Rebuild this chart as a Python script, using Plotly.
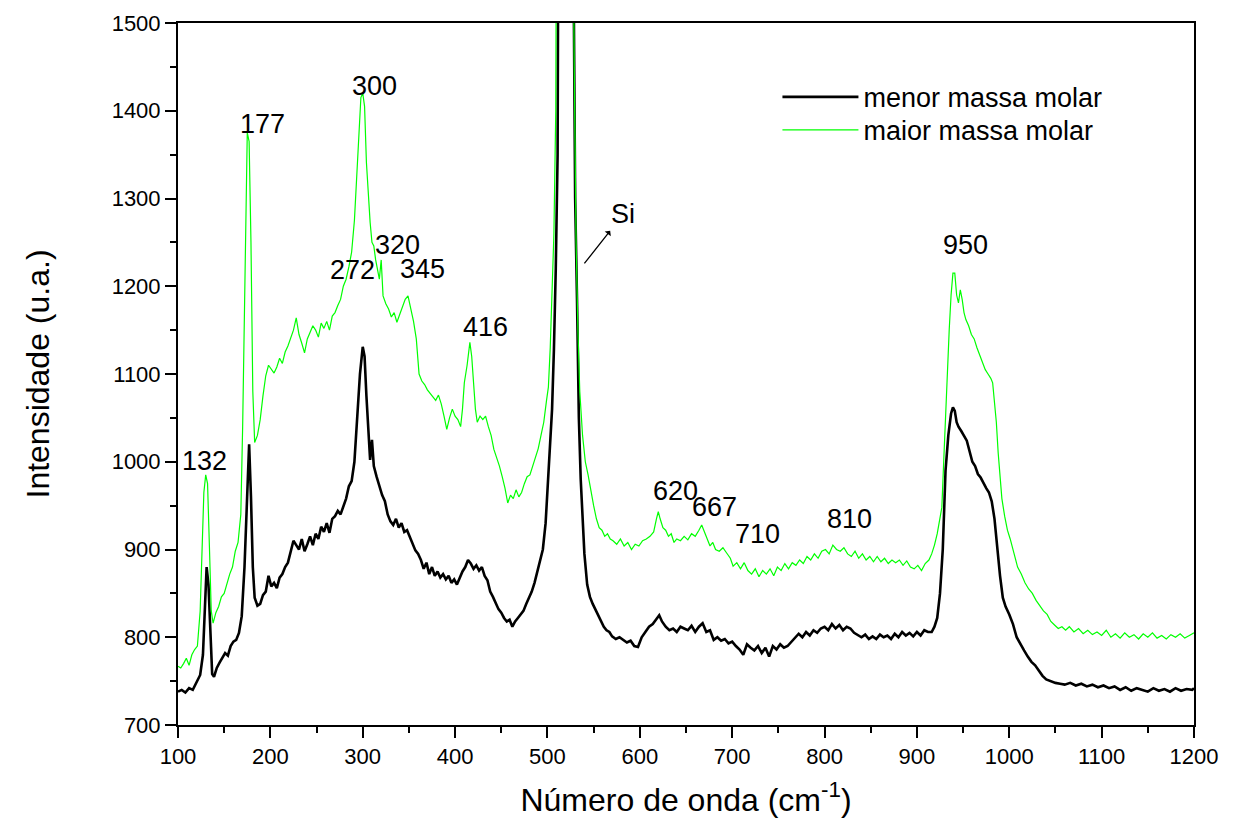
import plotly.graph_objects as go

# ---------------- data ----------------
x_menor = [100,104,108,112,116,120,124,127,129,131,133,135,137,139,142,145,148,151,154,157,160,163,166,169,172,175,177,179,181,183,186,189,192,195,198,201,204,207,210,213,216,219,222,225,228,231,234,237,240,243,246,249,252,255,258,261,264,267,270,273,276,279,282,285,288,291,294,297,300,302,304,306,308,310,312,315,318,321,324,327,330,333,336,339,342,345,348,351,354,357,360,363,366,369,372,375,378,381,384,387,390,393,396,399,402,405,408,411,414,417,420,423,426,429,432,435,438,441,444,447,450,453,456,459,462,465,468,471,474,477,480,483,486,489,492,495,498,501,503,505,507,509,511,514,517,520,523,526,528,530,532,534,536,538,540,543,546,549,552,555,558,561,564,567,570,574,578,582,586,590,594,598,602,606,610,614,618,621,624,628,632,636,640,644,648,652,656,660,664,668,672,676,680,684,688,692,696,700,704,708,712,716,720,724,728,732,736,740,744,748,752,756,760,764,768,772,776,780,784,788,792,796,800,804,808,812,816,820,824,828,832,836,840,844,848,852,856,860,864,868,872,876,880,884,888,892,896,900,904,908,912,916,919,922,925,928,931,934,937,939,941,943,945,948,951,954,957,960,963,966,969,972,975,978,981,984,987,990,993,996,1000,1004,1008,1012,1016,1020,1024,1028,1032,1036,1040,1045,1050,1055,1060,1066,1072,1078,1084,1090,1096,1102,1108,1114,1120,1126,1132,1138,1144,1150,1156,1162,1168,1174,1180,1186,1192,1198,1200]
y_menor = [738,740,737,742,740,748,757,780,840,880,860,800,758,755,765,771,776,782,779,790,795,797,805,824,880,980,1020,960,880,845,836,838,848,852,870,858,862,856,868,872,880,885,898,910,905,900,912,898,906,915,905,918,912,926,920,930,919,935,938,944,940,950,958,972,978,1000,1052,1100,1131,1120,1075,1040,1002,1025,995,983,972,962,955,940,932,928,935,925,930,920,922,915,906,899,895,888,878,885,872,880,870,875,868,872,866,870,862,866,860,868,875,880,888,884,878,882,876,880,870,865,852,846,838,832,828,822,818,820,812,818,822,826,830,838,845,852,862,875,888,900,930,980,1014,1060,1128,1220,1350,1900,3500,4600,3200,1900,1550,1300,1185,1050,980,930,895,860,846,838,831,826,818,812,808,806,801,798,800,797,794,796,790,789,800,806,812,815,820,825,818,812,808,810,806,812,810,808,813,806,812,816,806,808,797,800,796,798,793,795,790,786,780,792,788,785,790,782,788,778,790,786,792,788,790,795,800,804,800,806,802,808,805,810,812,808,815,810,814,808,812,810,805,802,800,803,798,801,798,803,800,802,798,804,800,806,802,805,801,806,802,808,806,806,812,822,850,900,990,1030,1055,1062,1058,1045,1040,1035,1030,1024,1012,1000,995,986,982,975,970,965,955,935,900,870,845,835,826,815,800,792,785,778,772,768,762,756,752,750,748,747,746,748,745,747,744,746,743,745,742,744,740,743,739,742,740,738,742,739,741,738,742,739,741,740,742]

x_maior = [100,103,106,109,112,115,118,121,124,126,128,130,132,134,136,138,141,144,147,150,153,156,159,162,165,168,170,172,174,175,177,179,181,183,186,189,192,195,198,201,204,207,210,213,216,219,222,225,228,231,234,237,240,243,246,249,252,255,258,261,264,267,270,273,276,279,282,285,288,291,294,296,298,300,302,304,306,308,310,312,314,316,318,320,322,325,328,331,334,337,340,343,346,349,352,355,358,361,364,367,370,373,376,379,382,385,388,391,394,397,400,403,406,408,410,413,416,418,420,422,424,427,430,433,436,439,442,445,448,451,454,457,460,463,466,469,472,475,478,481,484,487,490,493,496,499,501,503,505,507,509,512,515,518,521,524,527,529,531,533,535,538,541,544,547,550,553,556,559,562,565,568,571,575,579,583,587,591,595,599,603,607,611,615,618,620,622,625,628,631,634,637,640,644,648,652,656,660,664,667,670,673,676,679,682,686,690,694,698,701,705,709,713,717,721,725,729,733,737,741,745,749,753,757,761,765,769,773,777,781,785,789,793,797,801,805,809,813,817,821,825,829,833,837,841,845,849,853,857,861,865,869,873,877,881,885,889,893,897,901,905,909,913,916,919,922,925,927,929,932,935,937,939,941,943,945,947,949,951,953,956,959,962,965,968,971,974,977,980,982,984,986,988,990,992,995,998,1001,1005,1009,1013,1017,1021,1025,1029,1033,1037,1041,1045,1049,1053,1057,1061,1065,1070,1075,1080,1085,1090,1095,1100,1105,1110,1115,1120,1125,1130,1135,1140,1145,1150,1155,1160,1165,1170,1175,1180,1185,1190,1195,1200]
y_maior = [767,765,770,776,768,780,786,790,830,905,965,985,975,904,830,816,828,835,846,850,862,872,880,898,908,940,1040,1180,1330,1375,1365,1250,1080,1022,1030,1048,1075,1098,1110,1105,1101,1108,1118,1112,1125,1132,1140,1150,1164,1145,1135,1124,1140,1148,1155,1150,1142,1158,1152,1160,1150,1166,1170,1178,1185,1200,1208,1222,1239,1275,1330,1380,1415,1420,1405,1341,1300,1273,1250,1246,1230,1220,1208,1230,1189,1180,1174,1165,1170,1159,1168,1177,1185,1189,1175,1160,1140,1100,1092,1088,1082,1078,1074,1070,1076,1066,1052,1037,1050,1060,1052,1048,1040,1060,1090,1110,1136,1120,1090,1060,1045,1052,1048,1052,1040,1030,1014,1005,995,983,970,953,962,958,968,960,965,975,983,985,995,1006,1015,1030,1045,1070,1085,1130,1200,1260,1400,1900,3000,4300,3800,2500,1700,1450,1250,1150,1080,1030,1000,985,965,950,935,925,922,915,918,912,910,906,912,904,908,900,906,904,910,912,915,920,935,943,935,925,922,915,918,908,912,910,915,911,918,915,922,928,920,912,904,908,900,898,902,896,890,881,885,878,885,876,872,878,869,876,872,878,870,880,876,884,878,885,882,888,884,892,888,895,890,898,900,895,905,900,898,902,895,892,898,890,895,888,892,886,892,886,890,884,888,885,888,882,887,880,878,882,876,884,888,895,905,918,935,948,1000,1080,1151,1190,1215,1215,1190,1181,1196,1185,1170,1162,1155,1145,1140,1130,1122,1115,1105,1100,1095,1090,1070,1045,1010,985,958,938,922,912,895,880,872,862,855,850,842,836,830,826,818,814,810,812,808,812,806,810,804,808,803,806,802,808,800,804,799,805,800,803,798,804,800,805,799,802,798,803,800,804,799,802,805]

series_names = ["menor massa molar", "maior massa molar"]

peak_labels = ["132", "177", "300", "272", "320", "345", "416", "620", "667", "710", "810", "950"]
peak_label_x = [129, 191, 313, 289, 338, 365, 433, 639, 681, 727, 827, 953]
peak_label_y = [1001, 1385, 1428, 1219, 1247, 1220, 1154, 967, 948, 918, 935, 1247]

si_text = "Si"
si_text_xy = (582, 1282)
si_arrow_tail = (540, 1226)

# ---------------- figure ----------------
FONT = "Liberation Sans, Arial, sans-serif"

fig = go.Figure()
fig.add_trace(go.Scatter(x=x_menor, y=y_menor, mode="lines", name=series_names[0],
                         line=dict(color="black", width=2.6), legend="legend"))
fig.add_trace(go.Scatter(x=x_maior, y=y_maior, mode="lines", name=series_names[1],
                         line=dict(color="#00ff00", width=1.2), legend="legend2"))

for t, xx, yy in zip(peak_labels, peak_label_x, peak_label_y):
    fig.add_annotation(x=xx, y=yy, text=t, showarrow=False,
                       font=dict(family=FONT, size=27, color="black"),
                       xanchor="center", yanchor="middle")

# "Si" label with an arrow whose head points at the label
fig.add_annotation(ax=si_text_xy[0], ay=si_text_xy[1], axref="x", ayref="y",
                   x=si_arrow_tail[0], y=si_arrow_tail[1], xref="x", yref="y",
                   text=si_text, showarrow=True, arrowside="start",
                   arrowhead=2, arrowsize=1.2, arrowwidth=1.3, arrowcolor="black",
                   font=dict(family=FONT, size=27, color="black"))

axis_common = dict(showline=True, linecolor="black", linewidth=2, mirror=True,
                   ticks="outside", ticklen=11, tickwidth=2, tickcolor="black",
                   showgrid=False, zeroline=False,
                   tickfont=dict(family=FONT, size=22, color="black"))

fig.update_xaxes(range=[100, 1200], dtick=100, tick0=100,
                 minor=dict(ticks="outside", ticklen=6, tickwidth=2, tickcolor="black", dtick=50, tick0=100),
                 title=dict(text="Número de onda (cm<sup>-1</sup>)", font=dict(family=FONT, size=32, color="black"),
                            standoff=20),
                 **axis_common)
fig.update_yaxes(range=[700, 1500], dtick=100, tick0=700,
                 minor=dict(ticks="outside", ticklen=6, tickwidth=2, tickcolor="black", dtick=50, tick0=700),
                 title=dict(text="Intensidade (u.a.)", font=dict(family=FONT, size=32, color="black"),
                            standoff=52),
                 **axis_common)

legend_common = dict(xanchor="left", yanchor="top", bgcolor="rgba(0,0,0,0)", borderwidth=0,
                     font=dict(family=FONT, size=27, color="black"), itemwidth=76)

fig.update_layout(
    width=1238, height=826,
    margin=dict(l=178, r=44, t=23, b=101),
    paper_bgcolor="white", plot_bgcolor="white",
    showlegend=True,
    legend=dict(x=0.59, y=0.929, **legend_common),
    legend2=dict(x=0.59, y=0.882, **legend_common),
)

fig.write_html("out.html")
